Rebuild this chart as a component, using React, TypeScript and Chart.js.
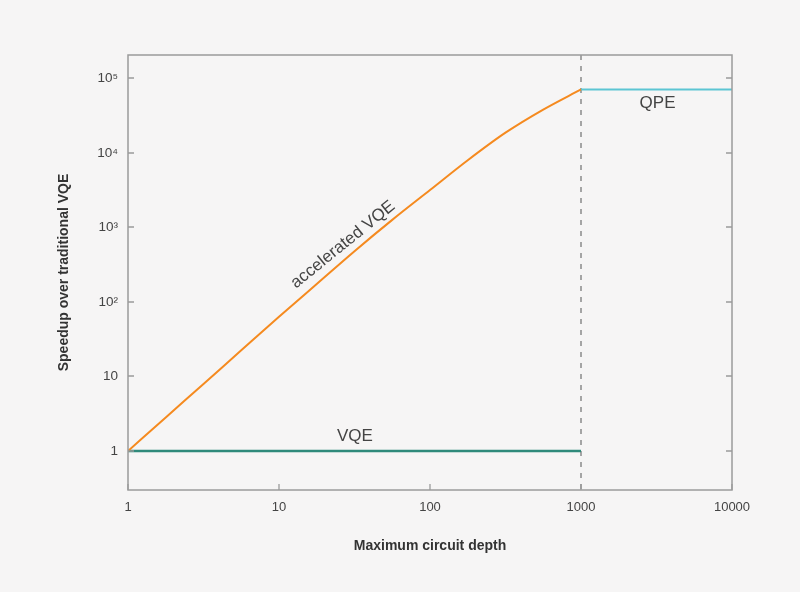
import React, { useEffect, useRef } from 'react';
import { Chart, registerables } from 'chart.js';

Chart.register(...registerables);

// ---- data ----
const accelDepth = [1, 1.778, 3.162, 5.623, 10, 17.78, 31.62, 56.23, 100, 177.8, 316.2, 562.3, 1000];
const accelSpeedup = [1, 2.82, 7.94, 22.4, 63.1, 174, 479, 1259, 3162, 7943, 18620, 38020, 70790];
const vqeDepth = [1, 1000];
const vqeSpeedup = [1, 1];
const qpeDepth = [1000, 10000];
const qpeSpeedup = [70790, 70790];
const cutoffDepth = 1000;

const xTickValues = [1, 10, 100, 1000, 10000];
const xTickLabels = ['1', '10', '100', '1000', '10000'];
const yTickValues = [1, 10, 100, 1000, 10000, 100000];
const yTickLabels = ['1', '10', '10²', '10³', '10⁴', '10⁵'];

const X_MIN = 1;
const X_MAX = 10000;
const Y_MIN = 0.31;
const Y_MAX = 205000;

// curve annotations: text, anchor depth, anchor speedup, rotation (deg)
const annotTexts = ['accelerated VQE', 'VQE', 'QPE'];
const annotDepth = [26.5, 31.8, 3214];
const annotSpeedup = [585, 1.585, 46350];
const annotRotation = [-39, 0, 0];

const FONT = "'Liberation Sans', Arial, Helvetica, sans-serif";
const BG = '#f6f5f5';

const framePlugin = {
  id: 'frameAndLabels',
  beforeDraw(chart: any) {
    const { ctx, width, height } = chart;
    ctx.save();
    ctx.fillStyle = BG;
    ctx.fillRect(0, 0, width, height);
    ctx.restore();
  },
  afterDatasetsDraw(chart: any) {
    const { ctx, chartArea: a, scales } = chart;
    const xs = scales.x;
    const ys = scales.y;
    ctx.save();
    ctx.strokeStyle = '#9b9b9b';
    ctx.lineWidth = 1.5;
    ctx.strokeRect(a.left, a.top, a.right - a.left, a.bottom - a.top);
    const tl = 6;
    ctx.beginPath();
    for (const v of xTickValues) {
      const px = Math.round(xs.getPixelForValue(v));
      ctx.moveTo(px, a.bottom);
      ctx.lineTo(px, a.bottom - tl);
    }
    for (const v of yTickValues) {
      const py = Math.round(ys.getPixelForValue(v));
      ctx.moveTo(a.left, py);
      ctx.lineTo(a.left + tl, py);
      ctx.moveTo(a.right, py);
      ctx.lineTo(a.right - tl, py);
    }
    ctx.lineWidth = 1.3;
    ctx.stroke();

    ctx.fillStyle = '#444444';
    ctx.font = `17px ${FONT}`;
    ctx.textAlign = 'center';
    ctx.textBaseline = 'middle';
    for (let i = 0; i < annotTexts.length; i++) {
      const px = xs.getPixelForValue(annotDepth[i]);
      const py = ys.getPixelForValue(annotSpeedup[i]);
      ctx.save();
      ctx.translate(px, py);
      ctx.rotate((annotRotation[i] * Math.PI) / 180);
      ctx.fillText(annotTexts[i], 0, 0);
      ctx.restore();
    }
    ctx.restore();
  },
};

export default function App() {
  const ref = useRef<HTMLCanvasElement | null>(null);

  useEffect(() => {
    document.body.style.margin = '0';
    document.body.style.background = BG;
    const canvas = ref.current;
    if (!canvas) return;

    const chart = new Chart(canvas, {
      type: 'line',
      data: {
        datasets: [
          {
            label: 'accelerated VQE',
            data: accelDepth.map((d, i) => ({ x: d, y: accelSpeedup[i] })),
            borderColor: '#f58a1f',
            borderWidth: 2,
            pointRadius: 0,
            cubicInterpolationMode: 'monotone',
            fill: false,
          },
          {
            label: 'VQE',
            data: vqeDepth.map((d, i) => ({ x: d, y: vqeSpeedup[i] })),
            borderColor: '#2f8a7b',
            borderWidth: 2.5,
            pointRadius: 0,
            fill: false,
          },
          {
            label: 'QPE',
            data: qpeDepth.map((d, i) => ({ x: d, y: qpeSpeedup[i] })),
            borderColor: '#5cc5d3',
            borderWidth: 2,
            pointRadius: 0,
            fill: false,
          },
          {
            label: 'cutoff',
            data: [
              { x: cutoffDepth, y: Y_MIN },
              { x: cutoffDepth, y: Y_MAX },
            ],
            borderColor: '#8a8a8a',
            borderWidth: 1.5,
            borderDash: [5, 6],
            pointRadius: 0,
            fill: false,
          },
        ],
      },
      options: {
        animation: false,
        responsive: false,
        devicePixelRatio: 1,
        layout: { padding: { left: 0, right: 68, top: 55, bottom: 0 } },
        plugins: {
          legend: { display: false },
          tooltip: { enabled: false },
        },
        scales: {
          x: {
            type: 'logarithmic',
            min: X_MIN,
            max: X_MAX,
            grid: { display: false, drawTicks: false },
            border: { display: false },
            afterBuildTicks: (scale: any) => {
              scale.ticks = xTickValues.map((v) => ({ value: v }));
            },
            afterFit: (scale: any) => {
              scale.height = 102;
            },
            ticks: {
              padding: 10,
              maxRotation: 0,
              autoSkip: false,
              color: '#444444',
              font: { family: FONT, size: 13 },
              callback: (value: any) => {
                const i = xTickValues.indexOf(Number(value));
                return i >= 0 ? xTickLabels[i] : '';
              },
            },
            title: {
              display: true,
              text: 'Maximum circuit depth',
              color: '#333333',
              font: { family: FONT, size: 14, weight: 'bold' },
              padding: { top: 0, bottom: 37 },
            },
          },
          y: {
            type: 'logarithmic',
            min: Y_MIN,
            max: Y_MAX,
            grid: { display: false, drawTicks: false },
            border: { display: false },
            afterBuildTicks: (scale: any) => {
              scale.ticks = yTickValues.map((v) => ({ value: v }));
            },
            afterFit: (scale: any) => {
              scale.width = 128;
            },
            ticks: {
              padding: 10,
              autoSkip: false,
              color: '#444444',
              font: { family: FONT, size: 13.5 },
              callback: (value: any) => {
                const i = yTickValues.indexOf(Number(value));
                return i >= 0 ? yTickLabels[i] : '';
              },
            },
            title: {
              display: true,
              text: 'Speedup over traditional VQE',
              color: '#333333',
              font: { family: FONT, size: 14, weight: 'bold' },
              padding: { top: 56, bottom: 0 },
            },
          },
        },
      },
      plugins: [framePlugin],
    });

    return () => chart.destroy();
  }, []);

  return (
    <div style={{ width: 800, height: 592, background: BG }}>
      <canvas ref={ref} width={800} height={592} style={{ display: 'block' }} />
    </div>
  );
}
